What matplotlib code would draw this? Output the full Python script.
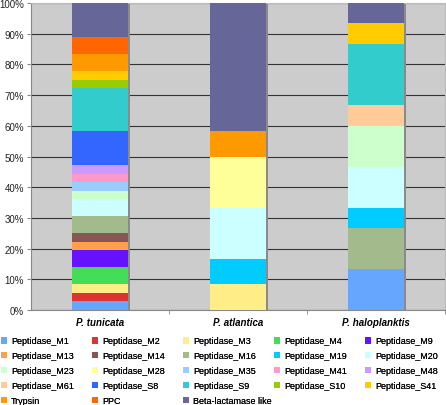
import numpy as np
import matplotlib
matplotlib.use("Agg")
import matplotlib.pyplot as plt
from matplotlib.patches import Patch

plt.rcParams['font.family'] = ['Liberation Sans', 'DejaVu Sans']

species = ["P. tunicata", "P. atlantica", "P. haloplanktis"]

families = [
    "Peptidase_M1", "Peptidase_M2", "Peptidase_M3", "Peptidase_M4", "Peptidase_M9",
    "Peptidase_M13", "Peptidase_M14", "Peptidase_M16", "Peptidase_M19", "Peptidase_M20",
    "Peptidase_M23", "Peptidase_M28", "Peptidase_M35", "Peptidase_M41", "Peptidase_M48",
    "Peptidase_M61", "Peptidase_S8", "Peptidase_S9", "Peptidase_S10", "Peptidase_S41",
    "Trypsin", "PPC", "Beta-lactamase like",
]

colors = [
    "#66A6FF", "#DD3333", "#FFEE88", "#44DD55", "#6611FF",
    "#FF9F4A", "#885555", "#A3BB8C", "#00CCFF", "#CCFFFF",
    "#CCFFCC", "#FFFF99", "#99CCFF", "#FF99CC", "#CC99FF",
    "#FFCC99", "#3366FF", "#33CCCC", "#99CC00", "#FFCC00",
    "#FF9900", "#FF6600", "#666699",
]

# gene counts per family (same order as families)
tunicata = [1, 1, 1, 2, 2, 1, 1, 2, 0, 2, 1, 0, 1, 1, 1, 0, 4, 5, 1, 1, 2, 2, 4]
atlantica = [0, 0, 1, 0, 0, 0, 0, 0, 1, 2, 0, 2, 0, 0, 0, 0, 0, 0, 0, 0, 1, 0, 5]
haloplanktis = [2, 0, 0, 0, 0, 0, 0, 2, 1, 2, 2, 0, 0, 0, 0, 1, 0, 3, 0, 1, 0, 0, 1]

yticks = [0, 10, 20, 30, 40, 50, 60, 70, 80, 90, 100]

counts = np.array([tunicata, atlantica, haloplanktis], dtype=float).T
share = counts / counts.sum(axis=0) * 100

fig = plt.figure(figsize=(4.46, 4.06), dpi=100)
ax = fig.add_axes([31 / 446, 1 - 311 / 406, 414 / 446, 307 / 406])
ax.set_facecolor("#CCCCCC")

x = np.arange(len(species))
width = 0.4

# bar shadow
ax.bar(x + 0.016, 100, width, color="#8A8A8A", zorder=2)

bottom = np.zeros(len(species))
for i, fam in enumerate(families):
    ax.bar(x, share[i], width, bottom=bottom, color=colors[i], zorder=3,
           linewidth=0)
    bottom += share[i]

ax.set_xlim(-0.5, 2.5)
ax.set_ylim(0, 100)
ax.set_yticks(yticks)
ax.set_yticklabels([f"{t}%" for t in yticks], fontsize=7, color="#222222")
ax.yaxis.grid(True, color="#333333", linewidth=0.8, zorder=1)
ax.set_axisbelow(True)

ax.set_xticks(x)
ax.set_xticklabels(species, fontsize=7, fontweight="bold", fontstyle="italic")
ax.set_xticks([0.5, 1.5, 2.5], minor=True)
ax.tick_params(axis="x", which="major", length=0, pad=5)
ax.tick_params(axis="x", which="minor", length=3, color="#888888")
ax.tick_params(axis="y", length=3, color="#888888", pad=2)

for side in ["left", "bottom"]:
    ax.spines[side].set_color("#888888")
for side in ["top", "right"]:
    ax.spines[side].set_color("#BBBBBB")

# legend laid out row-wise in 5 columns, one legend per column
ncol = 5
for c in range(ncol):
    idx = list(range(c, len(families), ncol))
    handles = [Patch(facecolor=colors[i], edgecolor="none") for i in idx]
    labels = [families[i] for i in idx]
    leg = fig.legend(handles, labels, loc="upper left",
                     bbox_to_anchor=((1 + 91 * c) / 446, 1 - 337.5 / 406),
                     ncol=1, frameon=False, fontsize=6.5, handlelength=0.7,
                     handleheight=0.7, handletextpad=0.4,
                     labelspacing=0.66, borderaxespad=0, borderpad=0)
    fig.add_artist(leg)

fig.savefig("out.png", dpi=100)
